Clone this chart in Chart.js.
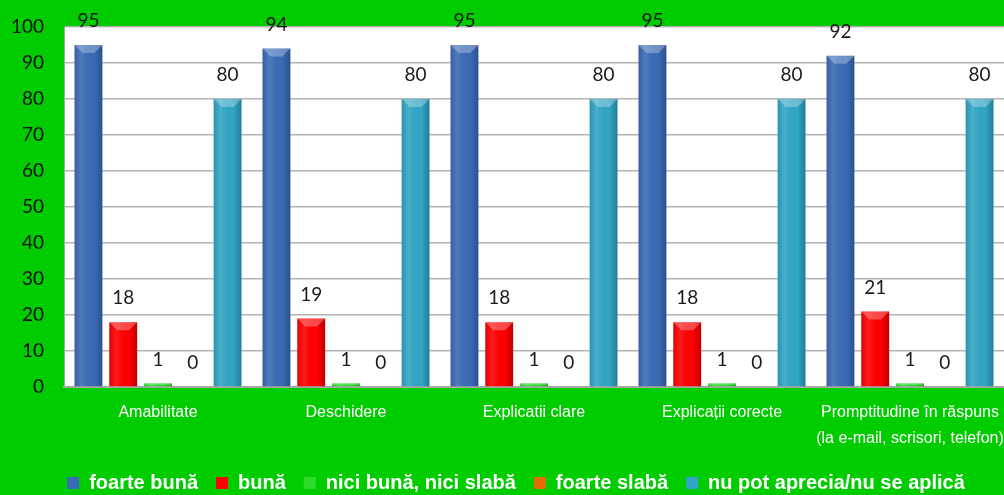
<!DOCTYPE html>
<html>
<head>
<meta charset="utf-8">
<script src="https://cdn.jsdelivr.net/npm/chart.js@4"></script>
<style>
  html, body { margin: 0; padding: 0; background: #00cc00; }
  #wrap { width: 1004px; height: 495px; }
</style>
</head>
<body>
<div id="wrap"><canvas id="evalChart" width="1004" height="495"></canvas></div>
<script>
const categories = [
  'Amabilitate',
  'Deschidere',
  'Explicatii clare',
  'Explicații corecte',
  ['Promptitudine în răspuns', '(la e-mail, scrisori, telefon)']
];
const seriesNames = ['foarte bună', 'bună', 'nici bună, nici slabă', 'foarte slabă', 'nu pot aprecia/nu se aplică'];
const foarteBuna = [95, 94, 95, 95, 92];
const buna = [18, 19, 18, 18, 21];
const niciBuna = [1, 1, 1, 1, 1];
const foarteSlaba = [0, 0, 0, 0, 0];
const nuPot = [80, 80, 80, 80, 80];
const yTicks = [0, 10, 20, 30, 40, 50, 60, 70, 80, 90, 100];

const colors = ['#3a6cb6', '#ff0000', '#2edc2e', '#e46c0a', '#31a6c6'];

// shading over each bar: light left edge, darker right edge, bevel on top
const barShade = {
  id: 'barShade',
  afterDatasetsDraw(chart) {
    const ctx = chart.ctx;
    chart.data.datasets.forEach((ds, i) => {
      chart.getDatasetMeta(i).data.forEach(bar => {
        const h = bar.base - bar.y;
        if (h < 1) return;
        const l = bar.x - bar.width / 2, r = bar.x + bar.width / 2;
        const g = ctx.createLinearGradient(l, 0, r, 0);
        g.addColorStop(0, 'rgba(0,0,0,0.12)');
        g.addColorStop(0.25, 'rgba(255,255,255,0.10)');
        g.addColorStop(0.7, 'rgba(0,0,0,0.0)');
        g.addColorStop(1, 'rgba(0,0,0,0.25)');
        ctx.save();
        ctx.fillStyle = g;
        ctx.fillRect(l, bar.y, bar.width, h);
        const bev = Math.min(8, h / 2);
        ctx.fillStyle = 'rgba(255,255,255,0.28)';
        ctx.beginPath();
        ctx.moveTo(l, bar.y);
        ctx.lineTo(r, bar.y);
        ctx.lineTo(r - bev, bar.y + bev);
        ctx.lineTo(l + bev, bar.y + bev);
        ctx.closePath();
        ctx.fill();
        ctx.restore();
      });
    });
  }
};

// value above every bar
const valueLabels = {
  id: 'valueLabels',
  afterDatasetsDraw(chart) {
    const ctx = chart.ctx;
    ctx.save();
    ctx.font = '19px Lato, "Open Sans", sans-serif';
    ctx.fillStyle = '#1a1a1a';
    ctx.textAlign = 'center';
    ctx.textBaseline = 'middle';
    chart.data.datasets.forEach((ds, i) => {
      chart.getDatasetMeta(i).data.forEach((bar, j) => {
        ctx.fillText(ds.data[j], bar.x, bar.y - 24);
      });
    });
    ctx.restore();
  }
};

// fixed legend band height, legend row shifted a bit to the right
const legendBand = {
  id: 'legendBand',
  beforeLayout(chart) {
    const lg = chart.legend;
    if (!lg || lg._bandPatched) return;
    const fit = lg.fit.bind(lg);
    lg.fit = function () { fit(); this.height = 40; };
    lg._bandPatched = true;
  },
  afterLayout(chart) {
    if (chart.legend) chart.legend.left += 28;
  }
};

const series = [foarteBuna, buna, niciBuna, foarteSlaba, nuPot];

new Chart(document.getElementById('evalChart'), {
  type: 'bar',
  data: {
    labels: categories,
    datasets: series.map((vals, i) => ({
      label: seriesNames[i],
      data: vals,
      backgroundColor: colors[i],
      borderWidth: 0,
      categoryPercentage: 0.925,
      barPercentage: 0.8
    }))
  },
  options: {
    responsive: false,
    animation: false,
    layout: { padding: { top: 27, right: 0, left: 0, bottom: 0 } },
    plugins: {
      tooltip: { enabled: false },
      legend: {
        position: 'bottom',
        labels: {
          color: '#ffffff',
          boxWidth: 12,
          boxHeight: 12,
          padding: 18,
          font: { family: '"Liberation Sans", Arial, sans-serif', size: 20, weight: 'bold' }
        }
      }
    },
    scales: {
      y: {
        min: 0,
        max: 100,
        afterBuildTicks(axis) { axis.ticks = yTicks.map(v => ({ value: v })); },
        afterFit(axis) {
          axis.width = 64;
          axis.paddingTop = 0;
          axis.paddingBottom = 0;
        },
        border: { display: true, color: '#a6a6a6' },
        grid: { color: '#b3b3b3', lineWidth: 1.5, drawTicks: false },
        ticks: {
          color: '#111111',
          padding: 20,
          font: { family: 'Lato, "Open Sans", sans-serif', size: 19 }
        }
      },
      x: {
        afterFit(axis) {
          axis.height = 68;
          axis.paddingLeft = 0;
          axis.paddingRight = 0;
        },
        border: { display: true, color: '#a6a6a6', width: 2 },
        grid: { display: false },
        ticks: {
          color: '#ffffff',
          padding: 4,
          autoSkip: false,
          maxRotation: 0,
          font: { family: '"Liberation Sans Narrow", "Liberation Sans", Arial, sans-serif', size: 16, lineHeight: 1.65 }
        }
      }
    }
  },
  plugins: [legendBand, barShade, valueLabels, {
    id: 'plotBg',
    beforeDraw(chart) {
      const a = chart.chartArea, ctx = chart.ctx;
      ctx.save();
      ctx.fillStyle = '#00cc00';
      ctx.fillRect(0, 0, chart.width, chart.height);
      ctx.fillStyle = '#ffffff';
      ctx.fillRect(a.left, a.top, a.right - a.left, a.bottom - a.top);
      ctx.restore();
    }
  }]
});
</script>
</body>
</html>
